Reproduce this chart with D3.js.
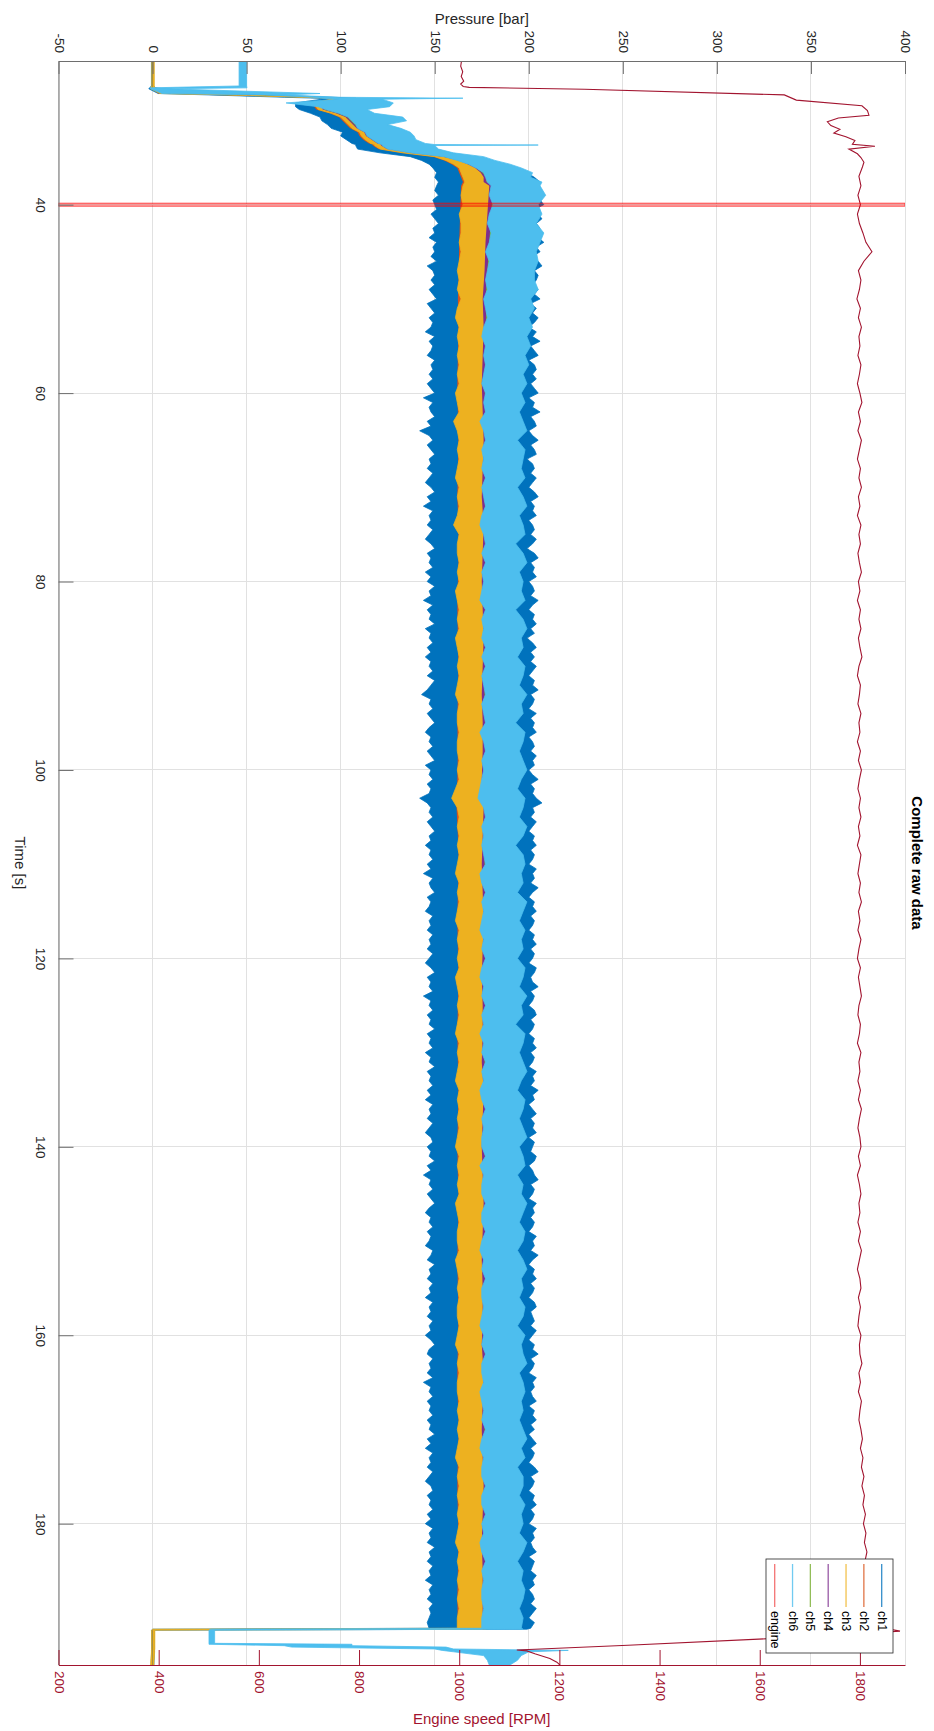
<!DOCTYPE html>
<html>
<head>
<meta charset="utf-8">
<script src="https://cdn.jsdelivr.net/npm/d3@7"></script>
<style>
  body { margin: 0; background: #fff; }
  svg { display: block; }
  text { font-family: "Liberation Sans", Arial, Helvetica, sans-serif; }
</style>
</head>
<body>
<svg id="chart" width="934" height="1731"></svg>
<script>
// ---------------- data ----------------
const channels = ["ch1", "ch2", "ch3", "ch4", "ch5", "ch6"];
const channelColors = ["#0072BD", "#D95319", "#EDB120", "#7E2F8E", "#77AC30", "#4DBEEE"];
const pressureTicks = [-50, 0, 50, 100, 150, 200, 250, 300, 350, 400];
const timeTicks = [40, 60, 80, 100, 120, 140, 160, 180];
const rpmTicks = [200, 400, 600, 800, 1000, 1200, 1400, 1600, 1800];
const markerTime = 40;

// sample times [s]: start-up transient, steady grids, shut-down
const startTime = [24.6, 27.4, 27.6, 27.7, 28.2, 28.35, 28.6, 28.7, 28.8, 29.2, 29.6, 29.9, 30.3, 30.7, 31.1, 31.5, 31.9,
  32.3, 32.7, 33.1, 33.5, 33.62, 33.67, 33.72, 34.1, 34.5, 34.9, 35.3, 35.7, 36.1, 36.6, 37.1, 37.6];
const endTime = [191.1, 191.2, 191.3, 192.7, 192.8, 192.95, 193.1, 193.3, 193.45, 193.6, 194.0, 194.5, 195.0];
const halfTime = [...startTime, ...d3.range(76, 382).map(k => k / 2), ...endTime];   // 0.5 s
const fineTime = [...startTime, ...d3.range(38, 191), ...endTime];                   // 1 s
const coarseTime = [...startTime, ...d3.range(38, 191, 3), ...endTime];              // 3 s

// pressure envelopes [bar] (min / max of each channel per sample)
// ch1 on the 0.5 s grid
const ch1Lo = [-0.6,-0.6,-1.5,-2,3,30,70,88,90,76,76,78,84,89,90,93,95,101,100,103,106,108,108,108,109,121,137,143,147,149,151,150,152,
  151,150,152,149,150,151,148,150,152,149, 150,147,151,149,150,148,151,146,149,150,
  148,150,147,149,151,146,148,150,147,149, 148,145,150,147,149,148,146,150,148,149,
  147,149,146,148,150,144,149,147,148,150, 146,148,142,147,149,146,148,150,147,148,
  146,149,147,145,148,150,146,148,144,149, 147,148,146,149,147,145,148,150,146,148,
  147,149,145,148,146,150,147,148,144,149, 146,148,147,150,145,148,147,149,146,148,
  145,148,147,149,146,150,148,146,143,148, 147,149,146,148,150,147,145,148,147,149,
  146,148,150,145,148,147,149,146,148,147, 142,146,148,147,149,146,148,150,147,148,
  145,148,147,149,146,148,144,149,147,148, 150,146,148,147,145,149,147,148,146,149,
  147,148,146,149,147,145,148,150,146,148, 147,149,144,148,147,149,146,148,147,150,
  146,148,147,149,145,148,147,150,146,148, 147,149,146,148,145,149,147,148,146,149,
  147,145,148,149,146,148,147,150,146,148, 144,148,147,149,146,148,150,147,145,148,
  147,149,146,148,147,145,149,148,146,150, 147,148,146,149,147,148,145,149,147,148,
  146,149,147,148,145,148,150,147,146,149, 147,148,146,149,144,148,147,149,146,148,
  147,149,146,148,147,150,146,148,145,149, 147,148,146,149,147,145,148,149,146,148,
  147,149,146,148,145,149,147,148,146,150, 147,148,146,149,147,148,145,149,147,148,
  146,149,147,148,147,146,
  147,0,-0.5,-0.5,-0.5,-0.5,-0.5,-0.5,-0.5,-0.5,-0.6,-0.7,-0.8];
const ch1Hi = [0.6,0.6,1.5,6,40,60,96,108,104,98,97,95,100,108,112,112,116,120,119,123,126,128,130,130,134,145,160,172,182,192,199,203,206,
  205,207,204,206,208,203,205,207,204,206, 203,205,208,204,206,202,205,207,203,205,
  204,202,205,203,206,201,204,202,205,203, 200,204,202,206,201,203,205,200,203,204,
  202,204,201,203,205,200,203,202,206,201, 203,204,200,202,205,201,203,204,199,202,
  203,201,204,202,200,203,205,201,203,202, 204,200,202,203,201,204,202,199,203,205,
  201,203,202,204,200,202,203,201,205,202, 200,203,202,204,201,203,199,202,204,201,
  203,201,204,202,200,203,202,205,201,203, 202,200,204,201,203,202,204,200,202,203,
  201,204,202,203,200,202,205,201,203,202, 204,207,202,203,201,204,202,200,203,202,
  204,201,203,202,200,204,202,203,201,205, 202,200,203,202,204,201,203,202,200,203,
  202,204,201,203,202,200,204,203,201,202, 205,201,203,202,200,203,204,201,203,202,
  200,203,202,204,201,203,202,200,204,202, 203,201,205,202,203,200,202,204,201,203,
  202,204,200,203,202,201,204,203,200,202, 203,205,201,203,202,200,204,202,203,201,
  203,202,200,204,202,203,201,205,202,200, 203,202,204,201,203,202,200,203,204,201,
  202,203,201,204,202,200,203,202,205,201, 203,202,200,204,202,203,201,202,204,200,
  203,202,204,201,203,200,202,204,201,203, 202,200,203,205,201,203,202,200,203,202,
  204,201,203,202,200,204,202,203,201,202, 204,200,203,202,201,204,202,203,200,202,
  203,201,204,202,200,203,
  201,199,1,1,1,1,1,1,1,1,0.9,0.8,0.7];

// ch3 and ch6 on the 1 s grid
const ch3Lo = [-0.4,-0.4,-1,-1,4,40,80,96,95,86,87,88,95,100,102,104,106,110,111,113,116,118,118,118,121,133,150,156,160,163,164,165,166,
  165,164,165,163,164,164,163,164,163,162, 163,162,164,162,161,163,162,163,162,163,
  162,163,161,162,163,160,162,163,162,163, 162,161,163,162,163,162,160,163,162,162,
  163,162,163,161,162,163,162,163,161,162, 163,162,163,162,161,163,162,162,163,162,
  162,163,162,163,161,159,162,163,162,163, 162,163,162,161,163,162,163,162,161,163,
  162,163,162,163,161,162,163,162,163,162, 161,163,162,163,162,161,163,162,163,162,
  163,162,161,163,162,163,162,163,161,162, 163,162,162,163,161,162,163,162,163,162,
  162,163,162,161,163,162,163,162,162,163, 162,163,162,163,162,161,163,162,163,162,
  163,162,163,162,161,163,162,163,162,163, 162,163,162,
  162,0,-0.5,-0.5,-0.5,-0.5,-0.5,-0.5,-0.6,-0.6,-0.7,-0.9,-1];
const ch3Hi = [0.9,0.9,1.2,3,9,45,84,99,98,89,90,91,98,103,105,107,109,113,114,117,120,122,122,122,125,137,155,163,168,172,175,177,177,
  182,181,182,181,180,182,181,180,181,180, 179,179,178,178,179,178,178,178,179,178,
  178,178,179,178,178,178,179,178,178,178, 178,178,179,178,178,178,179,178,178,178,
  178,178,179,178,178,178,179,178,178,178, 178,178,179,178,178,178,179,178,178,178,
  178,178,179,178,178,178,179,178,178,178, 178,178,179,178,178,178,179,178,178,178,
  178,178,179,178,178,178,179,178,178,178, 178,178,179,178,178,178,179,178,178,178,
  178,178,179,178,178,178,179,178,178,178, 178,178,179,178,178,178,179,178,178,178,
  178,178,179,178,178,178,179,178,178,178, 178,178,179,178,178,178,179,178,178,178,
  178,178,179,178,178,178,179,178,178,178, 178,178,179,
  178,177,1.2,1.2,1.2,1.2,1.2,1.2,1.1,1.1,1,0.8,0.7];
const ch6Lo = [46,46,-1.5,-1,5,60,85,90,99,71,88,92,99,104,106,108,109,113,114,117,120,122,122,122,125,137,155,162,168,172,176,177,178,
  180,179,181,179,178,180,179,177,179,178, 177,178,176,177,178,176,175,177,176,177,
  176,175,177,176,177,174,176,177,175,176, 175,177,175,176,177,175,174,176,177,175,
  177,175,176,175,174,177,175,176,175,177, 175,177,175,176,177,175,176,177,174,176,
  177,175,176,175,174,173,176,177,175,176, 175,176,177,174,175,177,175,176,175,174,
  176,175,177,175,174,176,175,177,175,176, 174,176,175,177,175,176,174,175,177,175,
  176,175,175,177,174,176,175,175,177,175, 175,177,175,174,176,175,177,175,175,176,
  175,174,176,175,177,175,175,176,174,175, 176,175,177,175,174,176,175,175,177,175,
  175,177,175,176,174,175,177,175,176,175, 175,176,175,
  175,31,30,30,30,70,74,150,154,160,176,178,179];
const ch6Hi = [50,50,50.2,8,89,70,100,165,122,128,126,114,118,133,135,125,132,137,139,140,145,150,205,150,152,160,176,182,190,196,202,201,207,
  206,209,205,207,204,208,206,204,205,203, 203,205,201,203,200,202,199,201,198,200,
  197,199,196,198,195,197,199,194,198,197, 196,198,194,197,199,195,197,198,193,197,
  199,195,197,196,198,193,197,199,196,197, 194,198,197,195,199,196,197,193,198,197,
  195,197,199,196,194,198,197,195,199,197, 193,197,198,196,197,194,199,197,195,198,
  196,197,194,198,197,195,199,196,197,193, 198,197,195,197,199,196,194,198,197,195,
  197,199,195,197,198,194,197,196,199,197, 195,198,197,194,197,199,196,197,195,198,
  197,194,198,196,197,199,195,197,198,196, 197,195,197,199,196,198,194,197,197,195,
  198,196,197,195,199,197,194,197,196,198, 197,195,197,
  196,197,33,33,106,106,156,160,221,200,196,194,190];

// ch2, ch4, ch5 on the 3 s grid
const ch2Lo = [-0.1,-0.1,-0.1,-0.1,3,39,79,95,94,85,86,87,94,99,101,103,105,109,110,112,115,117,117,117,120,132,149,155,159,162,163,164,165,
  164,163.5,163,162.8,162.3,162.6,162.3,162,162.3,162.6, 162.3,162,162.6,162.8,162.3,162,162.3,162.6,162.3,162,
  162.3,162,161.6,162.3,162.8,162.3,162,162.3,162.6,162.3, 162,162.3,162.6,162.3,162,162.3,162.8,162.3,162,162.3,
  162.6,162.3,162,162.3,162.8,162.3,162,162.3,162.6,162.3, 162,
  162.3,162.3,-0.1,-0.1,-0.1,-0.1,-0.1,-0.1,-0.1,-0.1,-0.1,-0.1,-0.1];
const ch2Hi = [0.1,0.1,0.1,0.1,7,43,83,99,98,89,90,91,98,103,105,107,109,113,114,116,119,121,121,121,124,136,153,159,163,166,167,168,169,
  169,168,168,167.5,167,168,167,167.5,168,167, 168,167,168,167.5,167,168,167,167.5,168,167,
  168,167,168,167.5,167,168,167,167.5,168,167, 168,167,168,167.5,167,168,167,167.5,168,167,
  168,167,168,167.5,167,168,167,167.5,168,167, 168,
  167,167,0.1,0.1,0.1,0.1,0.1,0.1,0.1,0.1,0.1,0.1,0.1];
const ch4Lo = [-0.1,-0.1,-0.1,-0.1,8.5,44.5,83.5,98.5,97.5,88.5,89.5,90.5,97.5,102.5,104.5,106.5,108.5,112.5,113.5,116.5,119.5,121.5,121.5,121.5,124.5,136.5,154.5,162.5,167.5,171.5,174.5,176,176,
  179,178,177,176.5,175.5,176,175.5,175,175.5,176, 175.5,175,176,175.5,175,175.5,176,175.5,175,175.5,
  175.5,175,176,175.5,175,175.5,176,175.5,175,175.5, 175.5,175,176,175.5,175,175.5,176,175.5,175,175.5,
  175.5,175,176,175.5,175,175.5,176,175.5,175,175.5, 175.5,
  175.5,175.5,-0.1,-0.1,-0.1,-0.1,-0.1,-0.1,-0.1,-0.1,-0.1,-0.1,-0.1];
const ch4Hi = [0.1,0.1,0.1,0.1,10,46,85,100,99,90,91,92,99,104,106,108,110,114,115,118,121,123,123,123,126,138,156,164,169,173,176,178,178,
  182,181,180,179,178,178.5,178,177.5,178,178.5, 178,177.5,178.5,178,177.5,178,178.5,178,177.5,178,
  178,177.5,178.5,178,177.5,178,178.5,178,177.5,178, 178,177.5,178.5,178,177.5,178,178.5,178,177.5,178,
  178,177.5,178.5,178,177.5,178,178.5,178,177.5,178, 178,
  178,178,0.1,0.1,0.1,0.1,0.1,0.1,0.1,0.1,0.1,0.1,0.1];
const ch5Lo = [-0.1,-0.1,-0.1,-0.1,9.3,45.3,84.3,99.3,98.3,89.3,90.3,91.3,98.3,103.3,105.3,107.3,109.3,113.3,114.3,117.3,120.3,122.3,122.3,122.3,125.3,137.3,155.3,163.3,168.3,172.3,175.3,177.3,177.5,
  181,180,179,178,177,177.5,177,176.5,177,177.5, 177,176.5,177.5,177,176.5,177,177.5,177,176.5,177,
  177,176.5,177.5,177,176.5,177,177.5,177,176.5,177, 177,176.5,177.5,177,176.5,177,177.5,177,176.5,177,
  177,176.5,177.5,177,176.5,177,177.5,177,176.5,177, 177,
  177,177,-0.1,-0.1,-0.1,-0.1,-0.1,-0.1,-0.1,-0.1,-0.1,-0.1,-0.1];
const ch5Hi = [0.1,0.1,0.1,0.1,10,46,85,100,99,90,91,92,99,104,106,108,110,114,115,118,121,123,123,123,126,138,156,164,169,173,176,178.5,178.5,
  182.5,181.5,180.5,179.5,178.5,179,178.5,178,178.5,179, 178.5,178,179,178.5,178,178.5,179,178.5,178,178.5,
  178.5,178,179,178.5,178,178.5,179,178.5,178,178.5, 178.5,178,179,178.5,178,178.5,179,178.5,178,178.5,
  178.5,178,179,178.5,178,178.5,179,178.5,178,178.5, 178.5,
  178.5,178.5,0.1,0.1,0.1,0.1,0.1,0.1,0.1,0.1,0.1,0.1,0.1];

// engine speed [RPM]
const engineTime = [24.6,25.3,25.9,26.4,26.9,27.2,27.45,27.55,27.75,28.35,28.9,29.5,30.0,30.5,30.8,31.2,31.6,32.0,32.4,32.8,33.2,33.6,33.8,34.1,34.6,35.0,35.5,
  ...d3.range(36, 191),
  190.8,191.1,191.4,192.2,192.9,193.4,193.5,193.8,194.3,194.7,195.0];
const engineRpm = [1005,1003,1007,1004,1009,1003,1008,1020,1250,1649,1673,1804,1815,1818,1757,1735,1742,1760,1748,1772,1790,1785,1830,1778,1795,1802,1808,
  1805,1798,1802,1796,1801,1795,1799,1806,1812,1824, 1808,1797,1802,1799,1794,1801,1797,1803,1798,1800,
  1796,1802,1799,1795,1800,1804,1797,1801,1796,1803, 1799,1795,1801,1798,1803,1797,1800,1795,1802,1798,
  1801,1796,1799,1803,1797,1800,1795,1801,1798,1802, 1797,1800,1804,1798,1795,1801,1799,1796,1802,1798,
  1800,1795,1801,1797,1803,1799,1796,1801,1798,1802, 1797,1800,1795,1802,1799,1796,1801,1798,1803,1797,
  1800,1796,1802,1798,1795,1801,1797,1800,1803,1798, 1796,1801,1799,1795,1802,1798,1800,1796,1801,1797,
  1803,1799,1796,1800,1802,1797,1801,1795,1799,1802, 1798,1800,1796,1801,1797,1803,1799,1795,1800,1802,
  1797,1801,1798,1796,1802,1799,1800,1804,1798,1801, 1797,1803,1800,1798,1802,1805,1801,1806,1803,1808,
  1804,1809,1806,1811,1807,1812,1809,1814,1810,1812, 1808,1813,1810,1815,1812,
  1815,1850,1880,1618,1337,1115,1135,1151,1181,1195,1201];

// ---------------- layout ----------------
const plot = { left: 58.5, right: 905, top: 61, bottom: 1665 };
const axisGrey = "#6e6e6e", textGrey = "#262626", rpmRed = "#A2142F";

const xP = d3.scaleLinear().domain([-50, 400]).range([plot.left, plot.right]);
const xR = d3.scaleLinear().domain([200, 1890]).range([plot.left, plot.right]);
const yT = d3.scaleLinear().domain([24.75, 195]).range([plot.top, plot.bottom]);

const svg = d3.select("#chart");
svg.append("rect").attr("width", 934).attr("height", 1731).attr("fill", "#fff");

svg.append("defs").append("clipPath").attr("id", "plotClip")
  .append("rect").attr("x", plot.left).attr("y", plot.top)
  .attr("width", plot.right - plot.left).attr("height", plot.bottom - plot.top);

// grid
const grid = svg.append("g").attr("stroke", "#e1e1e1").attr("stroke-width", 1).attr("shape-rendering", "crispEdges");
grid.selectAll("line.gv").data(pressureTicks).join("line").attr("class", "gv")
  .attr("x1", d => xP(d)).attr("x2", d => xP(d)).attr("y1", plot.top).attr("y2", plot.bottom);
grid.selectAll("line.gh").data(timeTicks).join("line").attr("class", "gh")
  .attr("x1", plot.left).attr("x2", plot.right).attr("y1", d => yT(d)).attr("y2", d => yT(d));

// pressure channels drawn as min/max envelopes, ch1 first, ch6 on top
function rows(time, lo, hi) {
  const n = Math.min(time.length, lo.length, hi.length);
  return d3.range(n).map(i => ({ t: time[i], lo: lo[i], hi: hi[i] }));
}
const bands = [
  { data: rows(halfTime, ch1Lo, ch1Hi), edge: 0.8 },
  { data: rows(coarseTime, ch2Lo, ch2Hi), edge: 0 },
  { data: rows(fineTime, ch3Lo, ch3Hi), edge: 0.8 },
  { data: rows(coarseTime, ch4Lo, ch4Hi), edge: 0 },
  { data: rows(coarseTime, ch5Lo, ch5Hi), edge: 0 },
  { data: rows(fineTime, ch6Lo, ch6Hi), edge: 0.8 }
];
const area = d3.area().x0(d => xP(d.lo)).x1(d => xP(d.hi)).y(d => yT(d.t));
const plotG = svg.append("g").attr("clip-path", "url(#plotClip)");
plotG.selectAll("path.band").data(bands).join("path").attr("class", "band")
  .attr("d", d => area(d.data))
  .attr("fill", (d, i) => channelColors[i])
  .attr("stroke", (d, i) => d.edge ? channelColors[i] : "none")
  .attr("stroke-width", d => d.edge)
  .attr("stroke-linejoin", "round");

// engine speed
const engine = engineTime.map((t, i) => ({ t, rpm: engineRpm[i] })).filter(d => d.rpm !== undefined);
plotG.append("path").datum(engine)
  .attr("d", d3.line().x(d => xR(d.rpm)).y(d => yT(d.t)))
  .attr("fill", "none").attr("stroke", rpmRed).attr("stroke-width", 1.1);

// marker at t = 40 s
plotG.append("rect")
  .attr("x", plot.left).attr("width", plot.right - plot.left)
  .attr("y", yT(markerTime) - 1.5).attr("height", 3)
  .attr("fill", "rgba(255,0,0,0.3)").attr("stroke", "#ff0000").attr("stroke-opacity", 0.75).attr("stroke-width", 0.9);

// axes
const fmt = d => String(d);
const axTop = svg.append("g").attr("transform", `translate(0,${plot.top})`)
  .call(d3.axisTop(xP).tickValues(pressureTicks).tickSizeInner(-13).tickSizeOuter(0).tickFormat(fmt));
const axLeft = svg.append("g").attr("transform", `translate(${plot.left},0)`)
  .call(d3.axisLeft(yT).tickValues(timeTicks).tickSizeInner(-15).tickSizeOuter(0).tickFormat(fmt));
const axBottom = svg.append("g").attr("transform", `translate(0,${plot.bottom})`)
  .call(d3.axisBottom(xR).tickValues(rpmTicks).tickSizeInner(-15).tickSizeOuter(0).tickFormat(fmt));

[axTop, axLeft, axBottom].forEach(g => g.attr("font-family", null).attr("font-size", null));
axTop.select(".domain").attr("stroke", axisGrey);
axTop.selectAll(".tick line").attr("stroke", axisGrey);
axTop.selectAll(".tick text")
  .attr("y", null).attr("dy", null)
  .attr("transform", "translate(0,-8) rotate(90)")
  .attr("text-anchor", "end").attr("dominant-baseline", "central")
  .attr("fill", textGrey).style("font-size", "13.5px");

axLeft.select(".domain").attr("stroke", axisGrey);
axLeft.selectAll(".tick line").attr("stroke", axisGrey);
axLeft.selectAll(".tick text")
  .attr("x", null).attr("dy", null)
  .attr("transform", "translate(-18,0) rotate(90)")
  .attr("text-anchor", "middle").attr("dominant-baseline", "central")
  .attr("fill", textGrey).style("font-size", "13.5px");

axBottom.select(".domain").attr("stroke", rpmRed);
axBottom.selectAll(".tick line").attr("stroke", rpmRed);
axBottom.selectAll(".tick text")
  .attr("y", null).attr("dy", null)
  .attr("transform", "translate(0,6) rotate(90)")
  .attr("text-anchor", "start").attr("dominant-baseline", "central")
  .attr("fill", rpmRed).style("font-size", "13.5px");

// axis titles and chart title
const cx = (plot.left + plot.right) / 2, cy = (plot.top + plot.bottom) / 2;
svg.append("text").attr("x", cx).attr("y", 18).attr("text-anchor", "middle").attr("dominant-baseline", "central")
  .attr("fill", textGrey).style("font-size", "15px").text("Pressure [bar]");
svg.append("text").attr("x", cx).attr("y", 1718).attr("text-anchor", "middle").attr("dominant-baseline", "central")
  .attr("fill", rpmRed).style("font-size", "15px").text("Engine speed [RPM]");
svg.append("text").attr("transform", `translate(20,${cy}) rotate(90)`).attr("text-anchor", "middle").attr("dominant-baseline", "central")
  .attr("fill", textGrey).style("font-size", "15px").text("Time [s]");
svg.append("text").attr("transform", `translate(917,${cy}) rotate(90)`).attr("text-anchor", "middle").attr("dominant-baseline", "central")
  .attr("fill", "#000").style("font-size", "15px").style("font-weight", "bold").text("Complete raw data");

// legend
const legendItems = channels.map((c, i) => ({ name: c, color: channelColors[i] }))
  .concat([{ name: "engine", color: "#f05050" }]);
const legend = svg.append("g");
legend.append("rect").attr("x", 766).attr("y", 1559).attr("width", 127).attr("height", 94)
  .attr("fill", "#fff").attr("stroke", "#262626").attr("stroke-width", 0.8);
const legX = d3.scalePoint().domain(legendItems.map(d => d.name)).range([881.7, 774.7]);
const li = legend.selectAll("g.item").data(legendItems).join("g").attr("class", "item");
li.append("line").attr("x1", d => legX(d.name)).attr("x2", d => legX(d.name))
  .attr("y1", 1564).attr("y2", 1607).attr("stroke", d => d.color).attr("stroke-width", 1.3).attr("stroke-opacity", 0.8);
li.append("text").attr("transform", d => `translate(${legX(d.name)},1611) rotate(90)`)
  .attr("text-anchor", "start").attr("dominant-baseline", "central")
  .attr("fill", "#000").style("font-size", "12.5px").text(d => d.name);
</script>
</body>
</html>
